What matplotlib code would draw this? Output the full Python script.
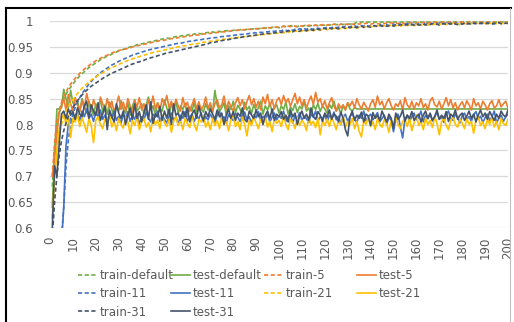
import numpy as np
import matplotlib.pyplot as plt
from matplotlib.lines import Line2D

# accuracy per epoch, in thousandths
train_default = [680, 750, 795, 820, 838, 850, 858, 866, 872, 878,
                 884, 889, 894, 898, 902, 906, 910, 913, 916, 919,
                 922, 925, 927, 930, 932, 934, 936, 938, 940, 942,
                 944, 945, 947, 948, 950, 951, 952, 954, 955, 956,
                 957, 958, 959, 960, 961, 962, 963, 964, 965, 966,
                 967, 966, 968, 969, 970, 969, 971, 972, 971, 973,
                 974, 973, 975, 975, 976, 975, 977, 977, 978, 977,
                 979, 978, 980, 980, 979, 981, 981, 982, 981, 982,
                 983, 982, 983, 984, 983, 984, 985, 984, 985, 986,
                 985, 986, 987, 986, 987, 986, 988, 987, 988, 987,
                 988, 990, 989, 989, 991, 990, 990, 989, 991, 990,
                 991, 992, 990, 991, 992, 992, 991, 993, 992, 992,
                 993, 992, 993, 994, 993, 993, 994, 993, 995, 994,
                 994, 995, 995] + [998] * 67
test_default = [640, 740, 830, 830, 832, 868, 850, 832, 866, 842,
                838, 845, 826, 850, 836, 822, 845, 830, 818, 840,
                833, 848, 825, 838, 820, 843, 829, 815, 836, 826,
                846, 830, 822, 842, 818, 835, 848, 826, 832, 840,
                820, 838, 853, 828, 836, 819, 842, 830, 826, 847,
                832, 818, 840, 827, 845, 822, 836, 829, 841, 816,
                834, 826, 843, 821, 838, 830, 824, 840, 828, 835,
                822, 866, 838, 826, 832, 842, 818, 836, 829, 845,
                823, 837, 830, 818, 843, 828, 835, 821, 839, 826,
                832, 845, 820, 836, 828, 841, 824, 833, 838, 822,
                836, 829, 843, 820, 834, 827, 840, 823, 835, 830,
                844, 826, 832, 819, 838, 829, 841, 825, 836, 830,
                822, 839, 831, 845, 826, 834, 820, 837, 828, 842,
                830, 826, 833] + [830] * 67
train_5 = [700, 765, 805, 828, 842, 854, 863, 871, 878, 884,
           889, 894, 899, 903, 907, 911, 914, 917, 920, 923,
           926, 928, 930, 932, 934, 936, 938, 940, 941, 943,
           944, 945, 946, 947, 948, 950, 951, 952, 953, 954,
           955, 956, 957, 958, 959, 960, 961, 962, 962, 963,
           964, 965, 966, 966, 967, 968, 968, 969, 970, 970,
           971, 972, 972, 973, 973, 974, 975, 975, 976, 976,
           977, 977, 978, 978, 979, 979, 980, 980, 981, 981,
           982, 982, 982, 983, 983, 984, 984, 984, 985, 985,
           985, 986, 986, 986, 987, 987, 987, 988, 988, 988,
           988, 990, 989, 990, 989, 991, 990, 989, 991, 990,
           991, 990, 992, 991, 991, 992, 990, 992, 993, 991,
           992, 993, 992, 994, 993, 992, 994, 993, 994, 993,
           995, 994, 993, 995, 994, 995, 994, 996, 995, 994,
           995, 996, 995, 994, 996, 995, 996, 995, 997, 995,
           996, 995, 997, 996, 995, 997, 996, 997, 996, 995,
           997, 996, 997, 998, 996, 997, 996, 998, 997, 996,
           997, 998, 996, 997, 998, 997, 996, 998, 997, 998,
           997, 996, 998, 997, 998, 996, 997, 998, 997, 998,
           997, 998, 996, 998, 997, 998, 997, 996, 998, 997]
test_5 = [700, 735, 780, 825, 835, 850, 828, 858, 840, 826,
          852, 838, 825, 846, 830, 860, 842, 825, 848, 835,
          822, 853, 840, 828, 850, 832, 845, 824, 838, 855,
          829, 843, 826, 850, 836, 822, 846, 833, 852, 828,
          840, 826, 848, 835, 855, 830, 842, 826, 850, 838,
          856, 832, 845, 828, 849, 836, 826, 852, 834, 843,
          825, 838, 850, 830, 844, 828, 836, 853, 831, 842,
          826, 840, 848, 832, 838, 855, 829, 845, 834, 826,
          842, 852, 836, 848, 830, 844, 856, 838, 850, 833,
          845, 828, 853, 840, 858, 835, 848, 830, 846, 852,
          838, 856, 842, 850, 835, 848, 860, 840, 853, 836,
          848, 832, 845, 855, 838, 862, 843, 850, 834, 846,
          830, 842, 852, 836, 826, 840, 832, 838, 828, 842,
          836, 845, 832, 850, 838, 830, 843, 835, 826, 840,
          848, 833, 855, 838, 845, 830, 842, 850, 836, 828,
          840, 835, 846, 828, 852, 838, 832, 845, 830, 842,
          836, 850, 833, 840, 828, 846, 852, 838, 834, 845,
          830, 840, 852, 836, 848, 832, 842, 828, 838, 844,
          832, 846, 838, 828, 850, 836, 842, 830, 845, 838,
          828, 840, 846, 832, 836, 848, 834, 840, 845, 832]
train_11 = [300, 400, 480, 540, 580, 640, 720, 770, 800, 820,
            833, 843, 852, 860, 866, 872, 878, 883, 888, 892,
            896, 900, 903, 906, 909, 912, 915, 917, 920, 922,
            924, 926, 928, 930, 932, 934, 935, 937, 938, 940,
            941, 943, 944, 945, 946, 947, 948, 949, 950, 951,
            952, 953, 954, 955, 956, 957, 957, 958, 959, 960,
            961, 961, 962, 963, 963, 964, 965, 965, 966, 967,
            967, 968, 968, 969, 970, 970, 971, 971, 972, 972,
            973, 973, 974, 974, 975, 975, 976, 976, 977, 977,
            978, 978, 978, 979, 979, 980, 980, 980, 981, 981,
            981, 983, 982, 981, 984, 982, 984, 983, 985, 984,
            985, 984, 986, 985, 984, 987, 986, 985, 987, 986,
            988, 986, 987, 989, 987, 988, 989, 988, 990, 988,
            989, 990, 991, 989, 990, 991, 990, 992, 990, 991,
            992, 990, 991, 993, 991, 992, 993, 991, 992, 994,
            992, 993, 994, 992, 993, 995, 993, 994, 993, 995,
            994, 993, 995, 994, 996, 994, 995, 993, 995, 996,
            994, 995, 996, 994, 996, 995, 997, 995, 996, 994,
            996, 997, 995, 996, 994, 997, 996, 995, 997, 996,
            995, 997, 996, 994, 997, 996, 995, 997, 996, 997]
test_11 = [350, 420, 480, 530, 570, 640, 760, 800, 812, 805,
           818, 822, 808, 826, 815, 830, 812, 820, 806, 824,
           815, 828, 810, 818, 804, 822, 813, 826, 808, 816,
           802, 820, 812, 825, 806, 818, 810, 822, 800, 815,
           808, 824, 812, 805, 820, 814, 826, 806, 818, 810,
           803, 816, 822, 809, 815, 800, 818, 812, 825, 807,
           814, 820, 806, 817, 811, 823, 805, 815, 809, 820,
           812, 804, 818, 826, 810, 815, 803, 820, 812, 808,
           822, 814, 806, 818, 824, 809, 815, 802, 819, 813,
           825, 808, 816, 811, 820, 805, 814, 822, 809, 817,
           812, 826, 806, 815, 820, 803, 817, 810, 823, 808,
           816, 811, 804, 820, 814, 826, 807, 815, 812, 819,
           805, 818, 812, 824, 809, 816, 800, 814, 820, 806,
           815, 822, 810, 804, 818, 812, 826, 807, 815, 820,
           809, 816, 823, 805, 812, 818, 800, 814, 808, 786,
           812, 820, 795, 774, 810, 818, 806, 815, 822, 809,
           814, 826, 805, 818, 811, 820, 807, 816, 823, 810,
           815, 804, 819, 826, 812, 808, 820, 814, 803, 817,
           822, 810, 815, 806, 819, 825, 811, 816, 804, 813,
           820, 808, 815, 826, 803, 812, 818, 806, 815, 820]
train_21 = [620, 700, 750, 780, 800, 815, 826, 835, 842, 848,
            854, 860, 865, 870, 874, 878, 882, 886, 889, 892,
            895, 898, 900, 903, 905, 908, 910, 912, 914, 916,
            918, 920, 922, 924, 925, 927, 928, 930, 931, 933,
            934, 935, 937, 938, 939, 940, 941, 942, 943, 944,
            945, 946, 947, 948, 949, 950, 951, 952, 952, 953,
            954, 955, 956, 956, 957, 958, 959, 959, 960, 961,
            961, 962, 963, 963, 964, 965, 965, 966, 966, 967,
            968, 968, 969, 969, 970, 970, 971, 971, 972, 972,
            973, 973, 974, 974, 975, 975, 976, 976, 976, 977,
            978, 977, 979, 978, 980, 979, 981, 980, 979, 981,
            982, 980, 982, 983, 981, 983, 984, 982, 984, 985,
            983, 985, 984, 986, 985, 984, 986, 987, 985, 987,
            986, 988, 987, 986, 988, 989, 987, 989, 988, 990,
            988, 989, 991, 989, 990, 991, 989, 991, 992, 990,
            991, 992, 990, 992, 993, 991, 992, 993, 991, 993,
            994, 992, 993, 994, 992, 995, 993, 994, 995, 993,
            994, 995, 993, 995, 994, 996, 994, 995, 993, 996,
            995, 994, 996, 995, 993, 996, 995, 994, 996, 995,
            994, 996, 995, 997, 995, 994, 996, 995, 997, 996]
test_21 = [620, 700, 750, 790, 810, 822, 800, 818, 775, 812,
           805, 820, 796, 813, 800, 785, 812, 798, 765, 808,
           815, 800, 792, 810, 803, 818, 795, 808, 788, 812,
           800, 793, 815, 805, 782, 808, 798, 816, 790, 806,
           812, 795, 804, 786, 815, 800, 808, 792, 818, 803,
           796, 810, 785, 806, 815, 798, 808, 790, 812, 802,
           794, 816, 800, 788, 810, 805, 818, 795, 806, 790,
           812, 798, 808, 792, 815, 800, 805, 788, 810, 818,
           796, 806, 790, 814, 800, 778, 808, 798, 816, 803,
           792, 810, 800, 815, 795, 806, 786, 812, 802, 808,
           796, 818, 800, 790, 810, 805, 792, 814, 798, 808,
           802, 788, 815, 800, 806, 794, 812, 780, 808, 798,
           810, 796, 815, 803, 790, 808, 800, 818, 795, 806,
           800, 812, 792, 806, 787, 776, 808, 800, 815, 796,
           805, 790, 812, 800, 795, 810, 802, 785, 808, 798,
           815, 800, 792, 806, 810, 796, 812, 788, 804, 818,
           798, 806, 790, 812, 800, 808, 794, 815, 802, 780,
           806, 812, 798, 790, 808, 815, 800, 795, 810, 803,
           792, 812, 800, 806, 783, 808, 815, 798, 805, 792,
           810, 800, 815, 795, 806, 790, 812, 802, 798, 810]
train_31 = [580, 650, 700, 740, 768, 788, 803, 815, 825, 833,
            840, 846, 852, 857, 862, 866, 870, 874, 877, 880,
            883, 886, 889, 892, 894, 897, 899, 901, 903, 905,
            907, 909, 911, 913, 915, 917, 918, 920, 921, 923,
            924, 926, 927, 929, 930, 931, 933, 934, 935, 937,
            938, 939, 940, 941, 942, 943, 944, 945, 946, 947,
            948, 949, 950, 951, 952, 953, 954, 955, 956, 958,
            958, 959, 960, 961, 962, 963, 964, 964, 965, 966,
            967, 967, 968, 969, 970, 970, 971, 972, 972, 973,
            973, 974, 975, 975, 976, 976, 977, 977, 978, 978,
            978, 980, 979, 981, 980, 979, 982, 981, 980, 983,
            982, 981, 984, 983, 982, 985, 984, 983, 985, 986,
            984, 986, 985, 987, 986, 985, 987, 988, 986, 988,
            987, 989, 988, 987, 989, 990, 988, 990, 989, 988,
            990, 991, 989, 991, 990, 992, 990, 991, 992, 990,
            992, 991, 993, 991, 992, 993, 991, 993, 992, 994,
            992, 993, 994, 992, 994, 993, 995, 993, 994, 992,
            994, 995, 993, 995, 994, 996, 994, 993, 995, 994,
            996, 994, 995, 993, 996, 995, 994, 996, 995, 994,
            996, 995, 994, 996, 995, 997, 995, 994, 996, 995]
test_31 = [600, 720, 700, 760, 820, 826, 812, 830, 818, 825,
           810, 832, 820, 815, 836, 845, 812, 838, 826, 818,
           842, 808, 820, 835, 790, 828, 815, 805, 840, 822,
           812, 826, 800, 818, 832, 810, 840, 812, 825, 805,
           822, 838, 810, 844, 802, 820, 815, 835, 808, 826,
           812, 830, 800, 840, 818, 822, 808, 826, 815, 832,
           805, 820, 828, 812, 836, 818, 808, 825, 815, 830,
           820, 810, 828, 815, 822, 800, 818, 830, 812, 825,
           808, 822, 816, 832, 810, 805, 826, 818, 812, 828,
           815, 822, 800, 818, 826, 812, 830, 808, 820, 815,
           825, 810, 818, 805, 828, 815, 822, 800, 816, 826,
           812, 820, 808, 832, 815, 810, 825, 818, 806, 822,
           814, 828, 810, 820, 816, 805, 824, 812, 790, 778,
           815, 826, 808, 818, 812, 824, 805, 820, 816, 798,
           823, 812, 818, 808, 826, 815, 805, 820, 812, 792,
           822, 810, 816, 828, 806, 818, 812, 825, 808, 815,
           820, 805, 818, 826, 812, 822, 808, 815, 828, 810,
           818, 812, 825, 806, 820, 815, 828, 810, 818, 822,
           808, 816, 826, 812, 820, 805, 818, 828, 815, 822,
           810, 825, 816, 808, 820, 812, 826, 818, 815, 828]

series = [('train-default', train_default, '#70AD47', True),
          ('test-default', test_default, '#70AD47', False),
          ('train-5', train_5, '#ED7D31', True),
          ('test-5', test_5, '#ED7D31', False),
          ('train-11', train_11, '#4472C4', True),
          ('test-11', test_11, '#4472C4', False),
          ('train-21', train_21, '#FFC000', True),
          ('test-21', test_21, '#FFC000', False),
          ('train-31', train_31, '#44546A', True),
          ('test-31', test_31, '#44546A', False)]

fig = plt.figure(figsize=(5.14, 3.22), dpi=100)
ax = fig.add_axes([50 / 514, 1 - 228 / 322, 458 / 514, 207 / 322])

handles = {}
for name, vals, color, dashed in series:
    y = np.array(vals) / 1000
    x = np.arange(1, len(y) + 1)
    ls = (0, (2.5, 1.5)) if dashed else '-'
    ln, = ax.plot(x, y, color=color, lw=1.2, ls=ls, label=name)
    handles[name] = ln

ax.set_xlim(0, 200)
ax.set_ylim(0.6, 1.0)
yt = np.arange(0.6, 1.001, 0.05)
ax.set_yticks(yt)
ax.set_yticklabels([f'{v:g}' for v in np.round(yt, 2)])
ax.set_xticks(np.arange(0, 201, 10))
ax.tick_params(axis='x', labelrotation=90, length=0, pad=6, labelsize=8.5, labelcolor='#595959')
ax.tick_params(axis='y', length=0, pad=12, labelsize=8.5, labelcolor='#595959')
ax.grid(axis='y', color='#D9D9D9', lw=0.9)
ax.set_axisbelow(True)
for s in ax.spines.values():
    s.set_visible(False)

# legend, Excel style: 4 equal columns, filled row by row
cols = [['train-default', 'train-11', 'train-31'],
        ['test-default', 'test-11', 'test-31'],
        ['train-5', 'train-21'],
        ['test-5', 'test-21']]
col_x = [78, 171, 264, 357]
for cx, names in zip(col_x, cols):
    leg = fig.legend([handles[n] for n in names], names, loc='upper left',
                     bbox_to_anchor=(cx / 514, 1 - 269 / 322), frameon=False,
                     fontsize=8.5, handlelength=1.6, handletextpad=0.2,
                     labelspacing=0.45, borderaxespad=0, borderpad=0)
    for t in leg.get_texts():
        t.set_color('#595959')

# outer frame of the screenshot
fig.add_artist(Line2D([5.5 / 514, 5.5 / 514], [0, 1 - 7.5 / 322], color='black', lw=1.5))
fig.add_artist(Line2D([5.5 / 514, 511 / 514], [1 - 7.5 / 322, 1 - 7.5 / 322], color='black', lw=1.5))
fig.add_artist(Line2D([510 / 514, 510 / 514], [0, 1 - 7.5 / 322], color='#BFBFBF', lw=0.8))

fig.savefig('out.png', dpi=100)
